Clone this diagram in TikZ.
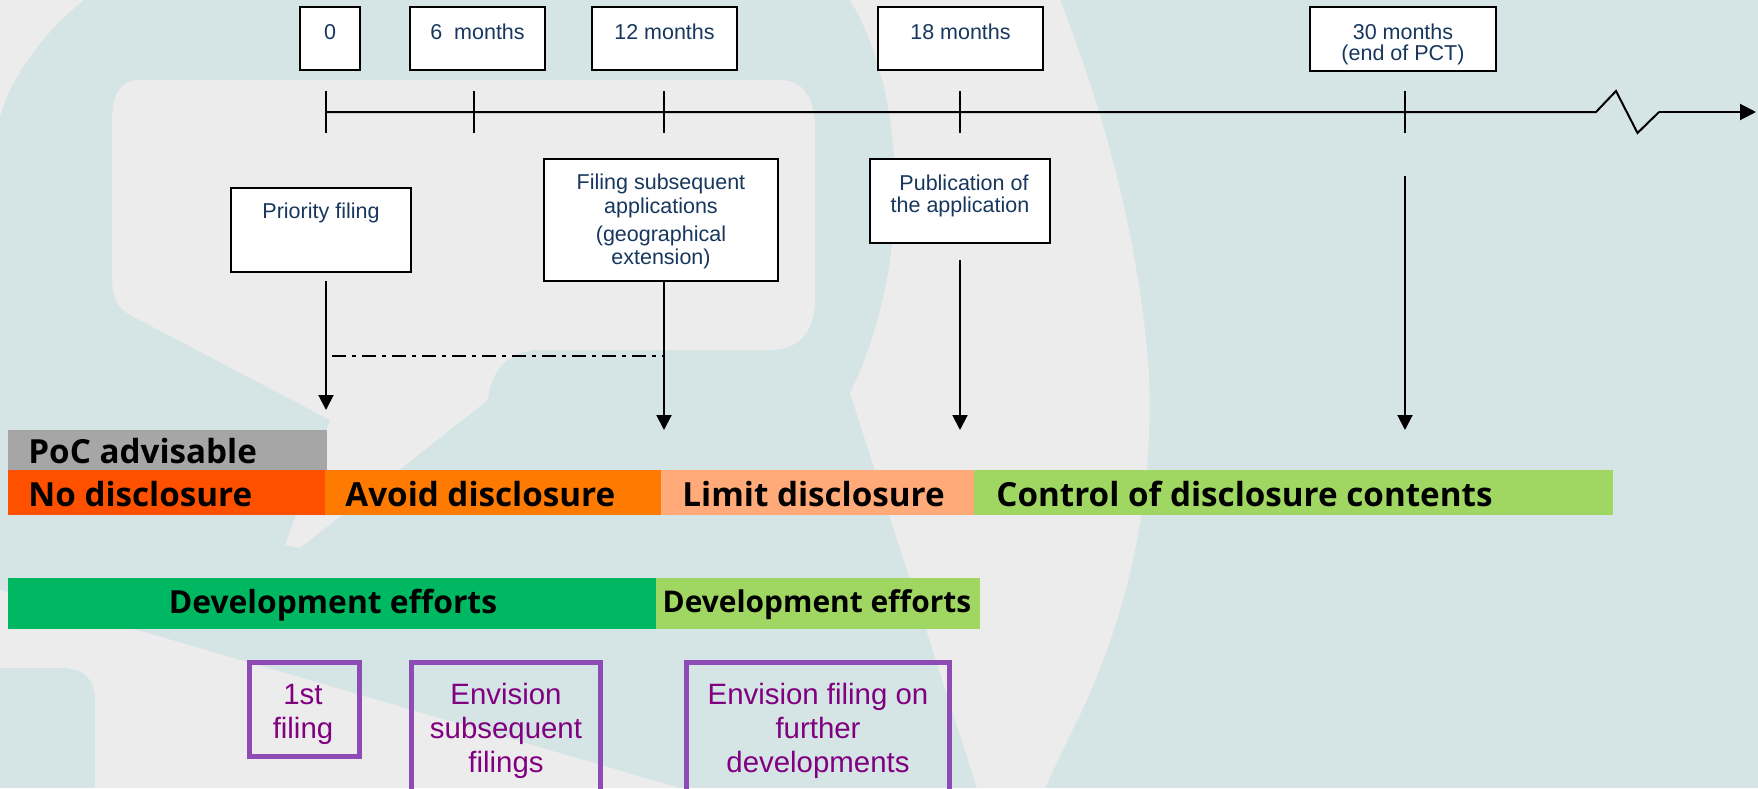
\documentclass[tikz,border=0pt]{standalone}
\usepackage{fontspec}
\setmainfont{Liberation Sans}
\newfontfamily\bandfont{Open Sans}
\usetikzlibrary{arrows.meta}
\definecolor{bggrey}{RGB}{236,236,236}
\definecolor{wmteal}{RGB}{213,228,228}
\definecolor{navy}{RGB}{23,55,94}
\definecolor{pocgrey}{RGB}{166,166,166}
\definecolor{noorange}{RGB}{255,80,0}
\definecolor{avoidorange}{RGB}{255,122,0}
\definecolor{limitpeach}{RGB}{255,170,120}
\definecolor{ctrlgreen}{RGB}{160,214,98}
\definecolor{devgreen}{RGB}{0,184,98}
\definecolor{boxpurple}{RGB}{142,75,181}
\definecolor{txtpurple}{RGB}{128,0,128}
\tikzset{
  tbox/.style={draw=black, line width=1.1pt, fill=white, inner sep=0pt, outer sep=0pt},
  ttext/.style={text=navy, font=\fontsize{10.75pt}{13pt}\selectfont, inner sep=0pt, anchor=base},
  band/.style={inner sep=0pt, outer sep=0pt, anchor=north west},
  btext/.style={text=black, font=\bandfont\bfseries\fontsize{16.6pt}{20pt}\selectfont, inner sep=0pt, anchor=base west},
  pbox/.style={draw=boxpurple, line width=2.5pt, inner sep=0pt, outer sep=0pt, anchor=north west},
  ptext/.style={text=txtpurple, font=\fontsize{14.7pt}{17pt}\selectfont, inner sep=0pt, anchor=base},
  arr/.style={line width=1pt, -{Triangle[length=7.5pt,width=7.5pt]}},
  axisline/.style={line width=1pt},
  dashdot/.style={line width=1pt, dash pattern=on 7pt off 3pt on 2pt off 3pt}
}
\begin{document}
\begin{tikzpicture}[x=0.5pt,y=-0.5pt]
\useasboundingbox (0,0) rectangle (1758,788);
\clip (0,0) rectangle (1758,788);
% background and watermark
\fill[wmteal] (0,0) rectangle (1758,788);
\fill[bggrey] (0,0) -- (84,0) .. controls (40,35) and (10,80) .. (0,117) -- cycle;
\fill[bggrey] (140,80) -- (780,80) .. controls (805,80) and (815,100) .. (815,130)
  -- (815,300) .. controls (815,330) and (800,350) .. (770,350) -- (540,350)
  .. controls (505,350) and (490,375) .. (488,400) -- (300,548) -- (285,545) -- (330,420)
  -- (130,315) .. controls (112,305) and (112,290) .. (112,270)
  -- (112,120) .. controls (112,95) and (120,80) .. (140,80) -- cycle;
\fill[bggrey] (850,0) .. controls (905,90) and (915,260) .. (850,393) -- (977,788)
  -- (1045,788) -- (1070,735) .. controls (1140,600) and (1160,450) .. (1145,330)
  .. controls (1130,200) and (1095,90) .. (1060,0) -- cycle;
\fill[bggrey] (0,590) -- (680,788) -- (95,788) -- (95,700)
  .. controls (95,680) and (85,668) .. (60,668) -- (0,668) -- cycle;

% timeline boxes
\node[tbox, minimum width=30pt, minimum height=31.5pt] (b0) at (330,38.5) {};
\node[tbox, minimum width=67.5pt, minimum height=31.5pt] (b6) at (477.5,38.5) {};
\node[tbox, minimum width=72.5pt, minimum height=31.5pt] (b12) at (664.5,38.5) {};
\node[tbox, minimum width=82.5pt, minimum height=31.5pt] (b18) at (960.5,38.5) {};
\node[tbox, minimum width=93pt, minimum height=32pt] (b30) at (1403,39) {};
\node[ttext] (b0t) at (330,39) {0};
\node[ttext] (b6t) at (477.5,39) {6~ months};
\node[ttext] (b12t) at (664.5,39) {12 months};
\node[ttext] (b18t) at (960.5,39) {18 months};
\node[ttext] (b30t) at (1403,39) {30 months};
\node[ttext] (b30u) at (1403,60.5) {(end of PCT)};

% axis
\coordinate (ax0) at (326,112);
\coordinate (z1) at (1596,112);
\coordinate (z2) at (1616,91);
\coordinate (z3) at (1637.5,133);
\coordinate (z4) at (1659,112);
\coordinate (axend) at (1756,112);
\draw[axisline] (ax0) -- (z1) -- (z2) -- (z3) -- (z4);
\draw[axisline, -{Triangle[length=8pt,width=8pt]}] (z4) -- (axend);
\foreach \tx in {326,474,664,960,1405}
  \draw[axisline] (\tx,91) -- (\tx,133);

% event boxes
\node[tbox, minimum width=90pt, minimum height=42pt] (pf) at (321,230) {};
\node[tbox, minimum width=117pt, minimum height=61pt] (fs) at (661,220) {};
\node[tbox, minimum width=90pt, minimum height=42pt] (pb) at (960,201) {};
\node[ttext] (pft) at (321,218) {Priority filing};
\node[ttext] (fs1) at (661,189) {Filing subsequent};
\node[ttext] (fs2) at (661,213) {applications};
\node[ttext] (fs3) at (661,241) {(geographical};
\node[ttext] (fs4) at (661,264) {extension)};
\node[ttext] (pb1) at (964,190) {Publication of};
\node[ttext] (pb2) at (960,212) {the application};

% arrows
\coordinate (a0s) at (326,281); \coordinate (a0e) at (326,410);
\coordinate (a12s) at (664,281); \coordinate (a12e) at (664,430);
\coordinate (a18s) at (960,260); \coordinate (a18e) at (960,430);
\coordinate (a30s) at (1405,176); \coordinate (a30e) at (1405,430);
\draw[arr] (a0s) -- (a0e);
\draw[arr] (a12s) -- (a12e);
\draw[arr] (a18s) -- (a18e);
\draw[arr] (a30s) -- (a30e);
\coordinate (dd1) at (332,356); \coordinate (dd2) at (664,356);
\draw[dashdot] (dd1) -- (dd2);

% disclosure bands
\node[band, fill=pocgrey, minimum width=159.5pt, minimum height=20pt] (poc) at (8,430) {};
\node[band, fill=noorange, minimum width=158.5pt, minimum height=22.5pt] (nod) at (8,470) {};
\node[band, fill=avoidorange, minimum width=168pt, minimum height=22.5pt] (avd) at (325,470) {};
\node[band, fill=limitpeach, minimum width=156.5pt, minimum height=22.5pt] (lmd) at (661,470) {};
\node[band, fill=ctrlgreen, minimum width=319.5pt, minimum height=22.5pt] (ctd) at (974,470) {};
\node[btext] (poct) at (28,463) {PoC advisable};
\node[btext] (nodt) at (28,506) {No disclosure};
\node[btext] (avdt) at (345,506) {Avoid disclosure};
\node[btext] (lmdt) at (682,506) {Limit disclosure};
\node[btext] (ctdt) at (996,506) {Control of disclosure contents};

% development bands
\node[band, fill=devgreen, minimum width=324pt, minimum height=25.5pt] (dev1) at (8,578) {};
\node[band, fill=ctrlgreen, minimum width=162pt, minimum height=25.5pt] (dev2) at (656,578) {};
\node[btext, anchor=base, font=\bandfont\bfseries\fontsize{15.9pt}{19pt}\selectfont] (dev1t) at (333,613) {Development efforts};
\node[btext, anchor=base, font=\bandfont\bfseries\fontsize{14.95pt}{18pt}\selectfont] (dev2t) at (817,612) {Development efforts};

% purple boxes
\node[pbox, minimum width=55pt, minimum height=47pt] (f1) at (249.5,662.5) {};
\node[pbox, minimum width=94.5pt, minimum height=70pt] (f2) at (411.5,662.5) {};
\node[pbox, minimum width=131.5pt, minimum height=70pt] (f3) at (686.5,662.5) {};
\node[ptext] (f1a) at (303,704) {1st};
\node[ptext] (f1b) at (303,738) {filing};
\node[ptext] (f2a) at (506,704) {Envision};
\node[ptext] (f2b) at (506,738) {subsequent};
\node[ptext] (f2c) at (506,772) {filings};
\node[ptext] (f3a) at (818,704) {Envision filing on};
\node[ptext] (f3b) at (818,738) {further};
\node[ptext] (f3c) at (818,772) {developments};
\end{tikzpicture}
\end{document}
